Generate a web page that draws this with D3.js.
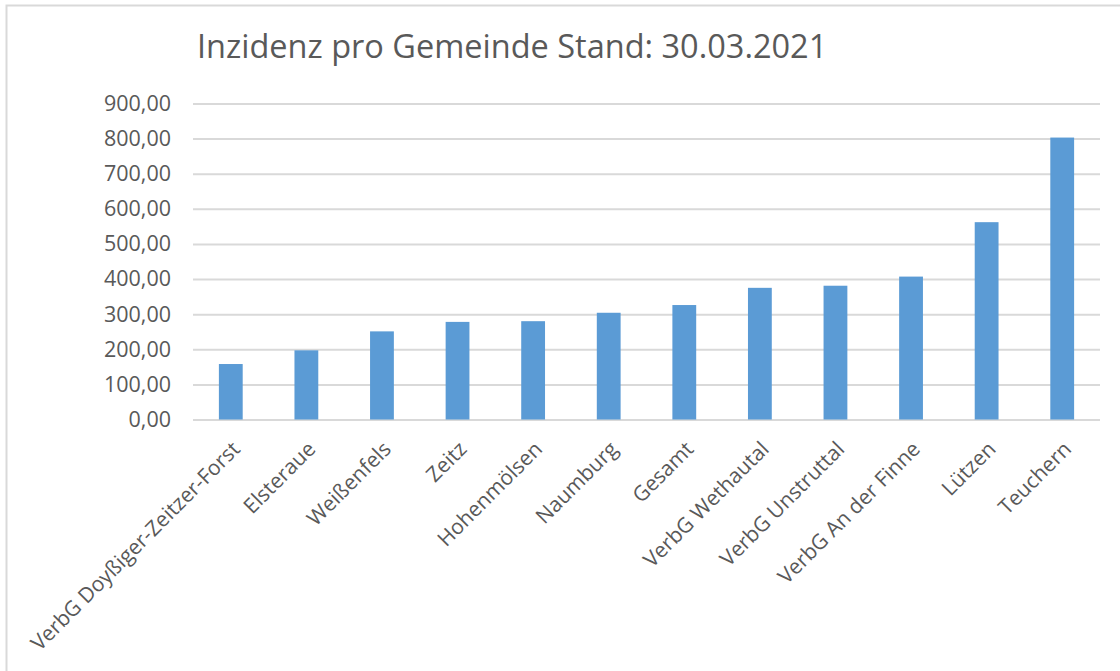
<!DOCTYPE html>
<html>
<head>
<meta charset="utf-8">
<script src="https://cdn.jsdelivr.net/npm/d3@7"></script>
<style>
  body { margin: 0; background: #fff; }
  text { font-family: 'Open Sans', sans-serif; fill: #595959; }
</style>
</head>
<body>
<svg width="1120" height="671"></svg>
<script>
var categories = ['VerbG Doyßiger-Zeitzer-Forst', 'Elsteraue', 'Weißenfels', 'Zeitz', 'Hohenmölsen',
    'Naumburg', 'Gesamt', 'VerbG Wethautal', 'VerbG Unstruttal', 'VerbG An der Finne', 'Lützen', 'Teuchern'];
var values = [158, 197, 251, 278, 280, 304, 326, 375, 381, 407, 562, 803];
var yTicks = [0, 100, 200, 300, 400, 500, 600, 700, 800, 900];

var svg = d3.select('svg'),
    width = +svg.attr('width'),
    height = +svg.attr('height');

// chart border (only top and left visible)
svg.append('path')
    .attr('d', 'M6.5,' + height + 'V5.5H' + width)
    .attr('fill', 'none')
    .attr('stroke', '#d9d9d9')
    .attr('stroke-width', 2);

svg.append('text')
    .attr('x', 197)
    .attr('y', 58)
    .attr('font-size', 32.5)
    .text('Inzidenz pro Gemeinde Stand: 30.03.2021');

var x = d3.scaleBand()
    .domain(categories)
    .range([193, 1100])
    .paddingInner(0.685)
    .paddingOuter(0.3425);

var y = d3.scaleLinear()
    .domain([0, 900])
    .range([419.5, 103.5]);

var fmt = function(d) { return d3.format('.2f')(d).replace('.', ','); };

// gridlines + y labels
var yAxis = svg.append('g')
    .attr('transform', 'translate(193,0)')
    .call(d3.axisLeft(y).tickValues(yTicks).tickFormat(fmt).tickSize(-907).tickPadding(22));
yAxis.select('.domain').remove();
yAxis.selectAll('.tick line').attr('stroke', '#d9d9d9').attr('stroke-width', 2);
yAxis.selectAll('.tick text')
    .attr('font-size', 21.5)
    .attr('font-family', "'Open Sans', sans-serif")
    .attr('fill', '#595959');

svg.append('g')
    .selectAll('rect')
    .data(values)
    .enter().append('rect')
        .attr('x', (d, i) => x(categories[i]))
        .attr('y', (d) => y(d))
        .attr('width', x.bandwidth())
        .attr('height', (d) => y(0) - y(d))
        .attr('fill', '#5b9bd5');

// category labels, rotated
svg.append('g')
    .selectAll('text')
    .data(categories)
    .enter().append('text')
        .attr('transform', (d) => 'translate(' + (x(d) + x.bandwidth() / 2) + ',440) rotate(-45)')
        .attr('text-anchor', 'end')
        .attr('dy', '0.7em')
        .attr('font-size', 21)
        .text((d) => d);
</script>
</body>
</html>
